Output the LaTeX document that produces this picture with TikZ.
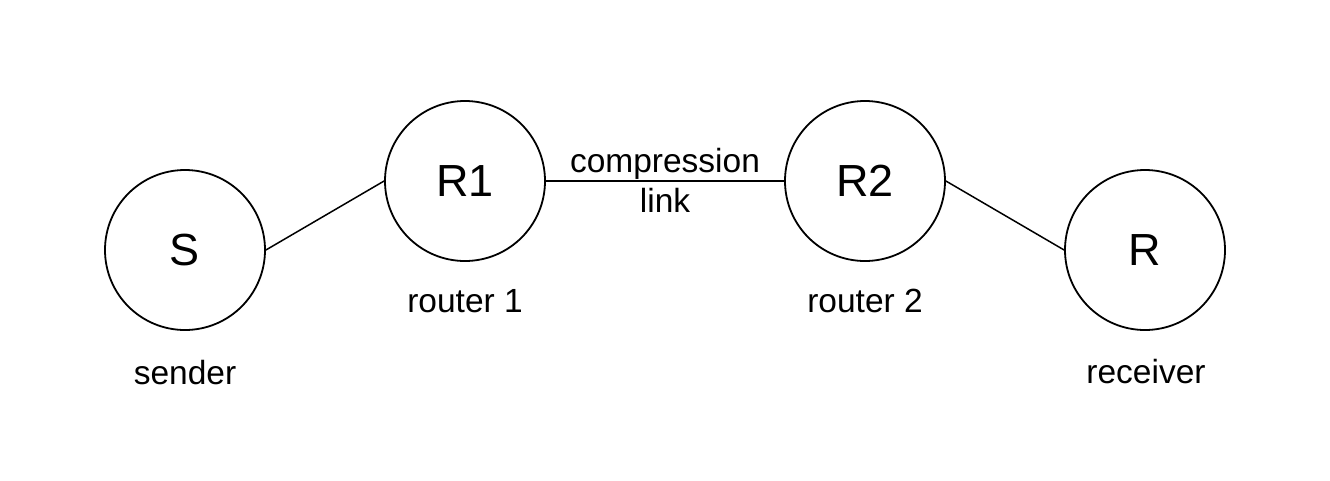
\documentclass[tikz,border=0pt]{standalone}
\usepackage{fontspec}
\setmainfont{Liberation Sans}
\begin{document}
\begin{tikzpicture}[x=1pt,y=-1pt,
  host/.style={circle,draw=black,line width=1.8pt,minimum size=160pt,inner sep=0pt,font=\fontsize{45}{54}\selectfont},
  lbl/.style={anchor=base,inner sep=0pt,font=\fontsize{33.5}{40}\selectfont},
  wire/.style={draw=black,line width=1.5pt}]
\useasboundingbox (0,0) rectangle (1330,480);
\node[host] (S) at (185,250) {S};
\node[host] (R1) at (465,181) {R1};
\node[host] (R2) at (865,181) {R2};
\node[host] (R) at (1145,250) {R};
\node[lbl] (ls) at (185,384) {sender};
\node[lbl] (l1) at (465,312) {router 1};
\node[lbl] (l2) at (865,312) {router 2};
\node[lbl] (lr) at (1146,383) {receiver};
\draw[wire] (S.east) -- (R1.west);
\draw[wire] (R1.east) -- (R2.west);
\draw[wire] (R2.east) -- (R.west);
\node[lbl] (c1) at (665,172) {compression};
\node[lbl] (c2) at (665,212) {link};
\end{tikzpicture}
\end{document}
